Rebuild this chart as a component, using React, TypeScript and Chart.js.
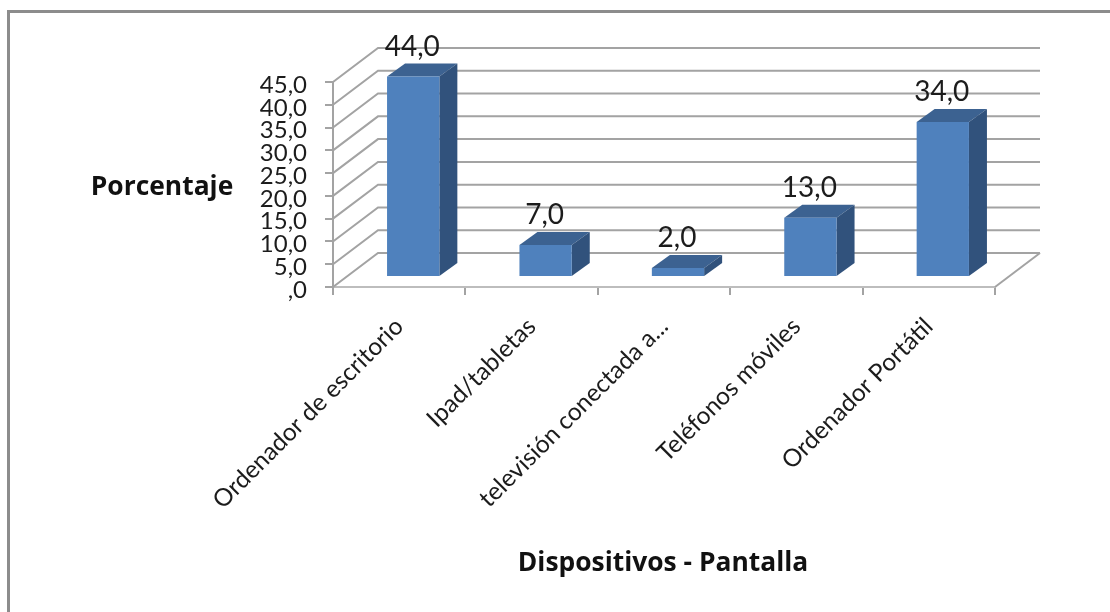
import { useEffect, useRef } from "react";
import { Chart, registerables } from "chart.js";

Chart.register(...registerables);

const categories = [
  "Ordenador de escritorio",
  "Ipad/tabletas",
  "televisión conectada a...",
  "Teléfonos móviles",
  "Ordenador Portátil",
];
const porcentajes = [44, 7, 2, 13, 34];
const valueLabels = ["44,0", "7,0", "2,0", "13,0", "34,0"];
const yTickLabels = [",0", "5,0", "10,0", "15,0", "20,0", "25,0", "30,0", "35,0", "40,0", "45,0"];

const FONT = "Lato, 'Open Sans', sans-serif";
const TITLE_FONT = "'Open Sans', Lato, sans-serif";
const GRID = "#a3a3a3";
const FRONT = "#4f81bd";
const TOP = "#3c6291";
const SIDE = "#31527c";

// Oblique projection: how far the back wall sits from the front plane,
// and where the bars stand within that depth.
const WALL_DX = 45;
const WALL_DY = -34;
const BAR_SHIFT_X = 14;
const BAR_SHIFT_Y = -10;
const BAR_DX = 18;
const BAR_DY = -13;

const box3d = {
  id: "box3d",
  beforeDatasetsDraw(chart: any) {
    const { ctx, chartArea, scales } = chart;
    const y = scales.y;
    ctx.save();
    ctx.strokeStyle = GRID;
    ctx.lineWidth = 2;
    // Left wall diagonals and back wall lines for every tick
    y.ticks.forEach((t: any) => {
      const py = y.getPixelForValue(t.value);
      ctx.beginPath();
      ctx.moveTo(chartArea.left, py);
      ctx.lineTo(chartArea.left + WALL_DX, py + WALL_DY);
      ctx.lineTo(chartArea.right + WALL_DX, py + WALL_DY);
      ctx.stroke();
    });
    // Right edge of the floor
    const base = y.getPixelForValue(0);
    ctx.beginPath();
    ctx.moveTo(chartArea.right, base);
    ctx.lineTo(chartArea.right + WALL_DX, base + WALL_DY);
    ctx.stroke();

    // Top and side faces of the bars
    const meta = chart.getDatasetMeta(0);
    meta.data.forEach((bar: any) => {
      const half = bar.width / 2;
      const l = bar.x - half + BAR_SHIFT_X;
      const r = bar.x + half + BAR_SHIFT_X;
      const t = bar.y + BAR_SHIFT_Y;
      const b = bar.base + BAR_SHIFT_Y;
      ctx.fillStyle = TOP;
      ctx.beginPath();
      ctx.moveTo(l, t);
      ctx.lineTo(l + BAR_DX, t + BAR_DY);
      ctx.lineTo(r + BAR_DX, t + BAR_DY);
      ctx.lineTo(r, t);
      ctx.closePath();
      ctx.fill();
      ctx.fillStyle = SIDE;
      ctx.beginPath();
      ctx.moveTo(r, t);
      ctx.lineTo(r + BAR_DX, t + BAR_DY);
      ctx.lineTo(r + BAR_DX, b + BAR_DY);
      ctx.lineTo(r, b);
      ctx.closePath();
      ctx.fill();
    });
    ctx.restore();
    // Front faces are drawn by the bar elements, moved onto the bar plane
    ctx.save();
    ctx.translate(BAR_SHIFT_X, BAR_SHIFT_Y);
  },
  afterDatasetsDraw(chart: any) {
    const { ctx } = chart;
    ctx.restore();
    ctx.save();
    ctx.fillStyle = "#1c1c1c";
    ctx.textAlign = "center";
    ctx.textBaseline = "alphabetic";
    ctx.font = `28px ${FONT}`;
    chart.getDatasetMeta(0).data.forEach((bar: any, i: number) => {
      ctx.fillText(valueLabels[i], bar.x + BAR_SHIFT_X - 1, bar.y + BAR_SHIFT_Y + BAR_DY - 8);
    });
    ctx.fillStyle = "#111111";
    ctx.font = `bold 26.4px ${TITLE_FONT}`;
    ctx.fillText("Porcentaje", 162, 195);
    ctx.fillText("Dispositivos - Pantalla", 663, 571);
    ctx.restore();
  },
};

export default function App() {
  const ref = useRef<HTMLCanvasElement>(null);
  useEffect(() => {
    const chart = new Chart(ref.current!, {
      type: "bar",
      data: {
        labels: categories,
        datasets: [
          {
            label: "Porcentaje",
            data: porcentajes,
            backgroundColor: FRONT,
            categoryPercentage: 1,
            barPercentage: 0.395,
          },
        ],
      },
      options: {
        animation: false,
        responsive: false,
        layout: { padding: { top: 82, right: 115, left: 0, bottom: 0 } },
        plugins: { legend: { display: false }, title: { display: false }, tooltip: { enabled: false } },
        scales: {
          x: {
            afterFit: (s: any) => {
              s.height = 325;
            },
            border: { color: "#bdbdbd", width: 2 },
            grid: { drawOnChartArea: false, color: GRID, lineWidth: 2, tickLength: 8 },
            ticks: {
              autoSkip: false,
              maxRotation: 45,
              minRotation: 45,
              padding: 17,
              color: "#1c1c1c",
              font: { family: FONT, size: 24.5 },
            },
          },
          y: {
            min: 0,
            max: 45,
            afterFit: (s: any) => {
              s.width = 333;
            },
            border: { color: GRID, width: 2 },
            grid: { drawOnChartArea: false, color: GRID, lineWidth: 2, tickLength: 8 },
            ticks: {
              autoSkip: false,
              stepSize: 5,
              padding: 18,
              labelOffset: 3,
              color: "#1c1c1c",
              font: { family: FONT, size: 24 },
              callback: (_v: any, i: number) => yTickLabels[i],
            },
          },
        },
      },
      plugins: [box3d],
    });
    return () => chart.destroy();
  }, []);

  return (
    <div style={{ position: "fixed", inset: 0, background: "#ffffff" }}>
      <canvas ref={ref} width={1110} height={612} style={{ display: "block" }} />
      <div
        style={{
          position: "absolute",
          left: 7,
          top: 10,
          width: 1200,
          height: 700,
          border: "3px solid #8c8c8c",
          pointerEvents: "none",
        }}
      />
    </div>
  );
}
